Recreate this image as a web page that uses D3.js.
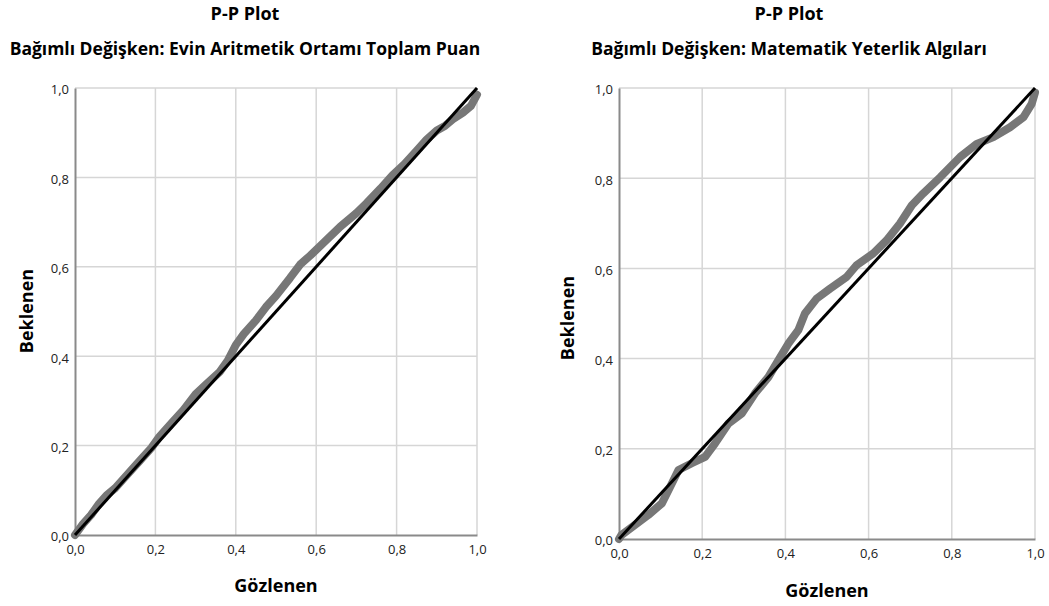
<!DOCTYPE html>
<html>
<head>
<meta charset="utf-8">
<script src="https://cdn.jsdelivr.net/npm/d3@7"></script>
<style>
  body { margin: 0; background: #fff; }
  svg text { font-family: "Open Sans", "Noto Sans", sans-serif; }
</style>
</head>
<body>
<div class="pp"></div>
<script>
const width = 1049;
const height = 606;

// tick values, shared by both charts
const tickValues = [0, 0.2, 0.4, 0.6, 0.8, 1.0];

// left chart: Evin Aritmetik Ortamı Toplam Puan
const leftTitle = 'Bağımlı Değişken: Evin Aritmetik Ortamı Toplam Puan';
const leftObserved = [0.00, 0.02, 0.04, 0.06, 0.08, 0.10, 0.13, 0.16, 0.19, 0.21, 0.24, 0.27, 0.30, 0.33, 0.36, 0.38, 0.40, 0.42, 0.45, 0.475, 0.50, 0.535, 0.56, 0.585, 0.62, 0.66, 0.70, 0.725, 0.76, 0.79, 0.82, 0.85, 0.875, 0.90, 0.92, 0.94, 0.965, 0.985, 1.00];
const leftExpected = [0.00, 0.025, 0.045, 0.07, 0.09, 0.105, 0.135, 0.165, 0.195, 0.22, 0.25, 0.28, 0.315, 0.34, 0.365, 0.39, 0.425, 0.45, 0.48, 0.51, 0.535, 0.575, 0.605, 0.625, 0.655, 0.69, 0.72, 0.742, 0.775, 0.805, 0.83, 0.86, 0.885, 0.905, 0.915, 0.93, 0.945, 0.96, 0.985];

// right chart: Matematik Yeterlik Algıları
const rightTitle = 'Bağımlı Değişken: Matematik Yeterlik Algıları';
const rightObserved = [0.00, 0.006, 0.038, 0.07, 0.103, 0.127, 0.143, 0.175, 0.207, 0.231, 0.263, 0.295, 0.327, 0.359, 0.383, 0.407, 0.431, 0.447, 0.475, 0.507, 0.547, 0.571, 0.611, 0.643, 0.675, 0.704, 0.731, 0.772, 0.82, 0.86, 0.90, 0.94, 0.972, 0.992, 1.00];
const rightExpected = [0.00, 0.009, 0.031, 0.053, 0.079, 0.123, 0.153, 0.168, 0.182, 0.212, 0.256, 0.278, 0.323, 0.359, 0.396, 0.433, 0.463, 0.50, 0.533, 0.555, 0.581, 0.607, 0.633, 0.662, 0.699, 0.74, 0.766, 0.802, 0.847, 0.876, 0.891, 0.913, 0.935, 0.965, 0.99];

const svg = d3.select('.pp').append('svg')
  .attr('width', width)
  .attr('height', height)

const fmt = d => d3.format('.1f')(d).replace('.', ',');

function drawChart(opts) {
  const x = d3.scaleLinear().domain([0, 1]).range([opts.left, opts.right]);
  const y = d3.scaleLinear().domain([0, 1]).range([opts.bottom, opts.top]);
  const g = svg.append('g');

  // grid
  g.selectAll('.vgrid')
    .data(tickValues.slice(1))
    .enter()
    .append('line')
    .attr('x1', d => x(d)).attr('x2', d => x(d))
    .attr('y1', y(0)).attr('y2', y(1))
    .attr('stroke', '#d6d6d6')
    .attr('stroke-width', 1.5)

  g.selectAll('.hgrid')
    .data(tickValues.slice(1))
    .enter()
    .append('line')
    .attr('x1', x(0)).attr('x2', x(1))
    .attr('y1', d => y(d)).attr('y2', d => y(d))
    .attr('stroke', '#d6d6d6')
    .attr('stroke-width', 1.5)

  // axes (no tick marks, labels only)
  const xAxis = g.append('g')
    .attr('transform', `translate(0,${y(0)})`)
    .call(d3.axisBottom(x).tickValues(tickValues).tickFormat(fmt).tickSize(0).tickPadding(10))
  const yAxis = g.append('g')
    .attr('transform', `translate(${x(0)},0)`)
    .call(d3.axisLeft(y).tickValues(tickValues).tickFormat(fmt).tickSize(0).tickPadding(6))

  for (const ax of [xAxis, yAxis]) {
    ax.select('.domain').attr('stroke', '#8a8a8a').attr('stroke-width', 2)
    ax.selectAll('text')
      .attr('fill', '#222')
      .style('font-size', '13px')
  }
  yAxis.selectAll('text').attr('dy', '0.45em')

  // P-P curve
  const pts = opts.observed.map((o, i) => [o, opts.expected[i]]);
  g.append('path')
    .datum(pts)
    .attr('d', d3.line().x(d => x(d[0])).y(d => y(d[1])))
    .attr('fill', 'none')
    .attr('stroke', '#777')
    .attr('stroke-width', 8)
    .attr('stroke-linejoin', 'round')
    .attr('stroke-linecap', 'round')

  // reference diagonal
  g.append('line')
    .attr('x1', x(0)).attr('y1', y(0))
    .attr('x2', x(1)).attr('y2', y(1))
    .attr('stroke', '#000')
    .attr('stroke-width', 3)

  // titles
  g.append('text')
    .attr('x', opts.center).attr('y', 20)
    .attr('text-anchor', 'middle')
    .style('font-weight', 'bold').style('font-size', '18px')
    .text('P-P Plot')
  g.append('text')
    .attr('x', opts.center).attr('y', 55)
    .attr('text-anchor', 'middle')
    .style('font-weight', 'bold').style('font-size', '17.5px')
    .text(opts.title)

  g.append('text')
    .attr('x', opts.xLabelX).attr('y', opts.xLabelY)
    .attr('text-anchor', 'middle')
    .style('font-weight', 'bold').style('font-size', '18px')
    .text('Gözlenen')
  g.append('text')
    .attr('transform', `translate(${opts.yLabelX},${opts.yLabelY}) rotate(-90)`)
    .attr('text-anchor', 'middle')
    .style('font-weight', 'bold').style('font-size', '18px')
    .text('Beklenen')
}

drawChart({
  left: 75, right: 477, top: 88, bottom: 535,
  center: 245, title: leftTitle,
  xLabelX: 276, xLabelY: 592, yLabelX: 33, yLabelY: 311,
  observed: leftObserved, expected: leftExpected
})

drawChart({
  left: 619, right: 1035, top: 88, bottom: 539,
  center: 789, title: rightTitle,
  xLabelX: 827, xLabelY: 597, yLabelX: 574, yLabelY: 318,
  observed: rightObserved, expected: rightExpected
})
</script>
</body>
</html>
